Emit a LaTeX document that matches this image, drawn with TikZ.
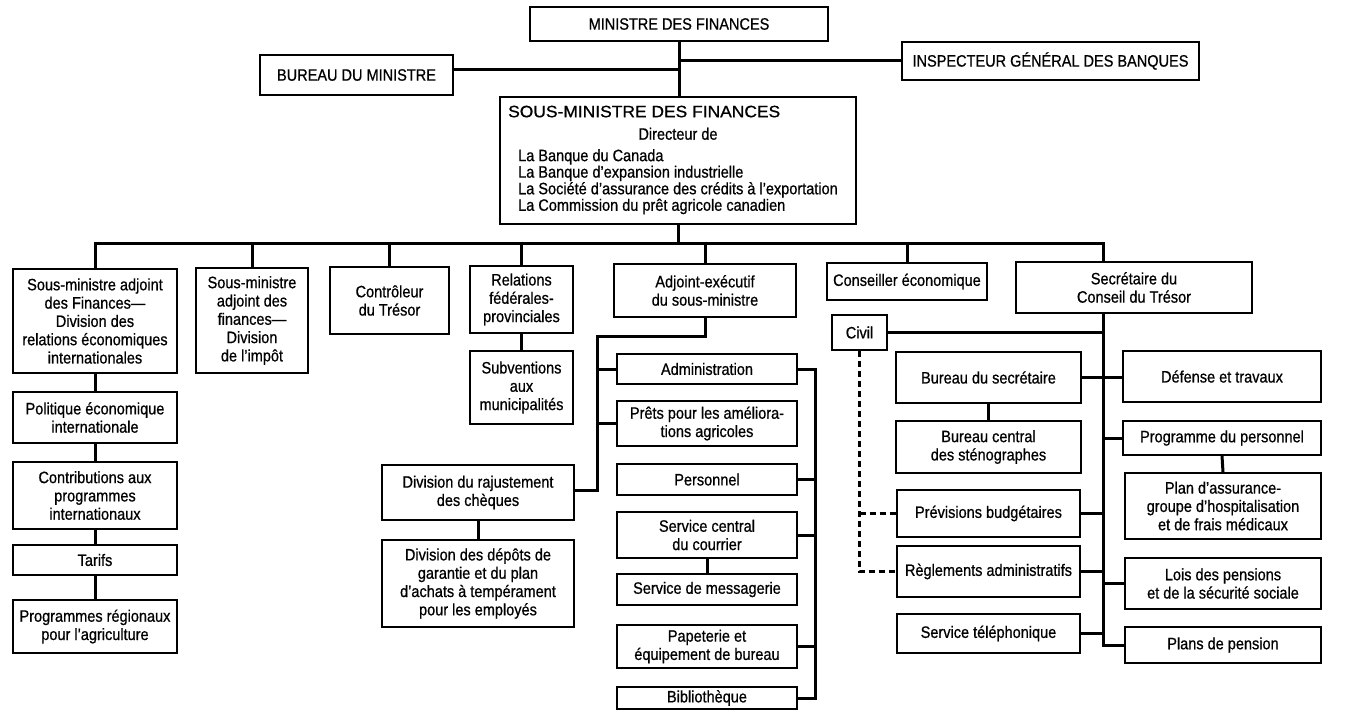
\documentclass[tikz,border=0pt]{standalone}
\usepackage{fontspec}
\usepackage{graphicx}
\setmainfont{Liberation Sans}[FakeStretch=0.88, FakeBold=0.7]
\usetikzlibrary{calc}

\tikzset{
  unit/.style={draw, line width=1.6pt, inner sep=0pt, align=center,
    font=\fontsize{16.5}{18.3}\selectfont},
  conn/.style={line width=3pt, line cap=rect},
  dotted link/.style={line width=2.4pt, dash pattern=on 6pt off 4pt},
}
% place a box by its pixel corners: left, top, right, bottom
\newcommand{\orgbox}[6]{%
  \node[unit, minimum width={#4-#2}, minimum height={#5-#3}]
    (#1) at ({(#2+#4)/2},{(#3+#5)/2}) {#6};}

\begin{document}
\begin{tikzpicture}[x=1pt, y=-1pt]
\useasboundingbox (0,0) rectangle (1349,711);

% --- top of the organisation
\orgbox{mf}{530}{7}{828}{41}{MINISTRE DES FINANCES}
\orgbox{bm}{260}{55}{453}{95}{BUREAU DU MINISTRE}
\orgbox{ig}{902}{42}{1199}{80}{INSPECTEUR GÉNÉRAL DES BANQUES}
\orgbox{sm}{500}{97}{856}{224}{%
  \fontsize{16.5}{15}\selectfont
  \begin{tabular}{@{}l@{}}
    \hspace*{-10pt}\scalebox{1.2}[1]{SOUS-MINISTRE DES FINANCES}\\[6pt]
    \multicolumn{1}{@{}c@{}}{Directeur de}\\[5pt]
    La Banque du Canada\\
    La Banque d'expansion industrielle\\
    La Société d'assurance des crédits à l'exportation\\
    La Commission du prêt agricole canadien
  \end{tabular}}

% --- first level under the deputy minister
\orgbox{c1}{13}{269}{177}{373}{Sous-ministre adjoint\\des Finances—\\Division des\\relations économiques\\internationales}
\orgbox{c2}{196}{268}{308}{373}{Sous-ministre\\adjoint des\\finances—\\Division\\de l'impôt}
\orgbox{c3}{330}{267}{449}{334}{Contrôleur\\du Trésor}
\orgbox{c4}{470}{266}{573}{333}{Relations\\fédérales-\\provinciales}
\orgbox{c5}{614}{264}{796}{317}{Adjoint-exécutif\\du sous-ministre}
\orgbox{ce}{827}{263}{987}{300}{Conseiller économique}
\orgbox{sct}{1016}{262}{1252}{313}{Secrétaire du\\Conseil du Trésor}

% --- international economic relations
\orgbox{pol}{13}{392}{177}{443}{Politique économique\\internationale}
\orgbox{contr}{13}{462}{177}{529}{Contributions aux\\programmes\\internationaux}
\orgbox{tar}{13}{545}{177}{575}{Tarifs}
\orgbox{preg}{13}{600}{177}{653}{Programmes régionaux\\pour l'agriculture}

% --- federal-provincial relations
\orgbox{sub}{470}{351}{573}{424}{Subventions\\aux\\municipalités}

% --- executive assistant
\orgbox{rc}{382}{465}{574}{520}{Division du rajustement\\des chèques}
\orgbox{dep}{382}{540}{574}{627}{Division des dépôts de\\garantie et du plan\\d'achats à tempérament\\pour les employés}
\orgbox{adm}{617}{354}{797}{384}{Administration}
\orgbox{prets}{617}{401}{797}{446}{Prêts pour les améliora-\\tions agricoles}
\orgbox{pers}{617}{464}{797}{495}{Personnel}
\orgbox{scc}{617}{512}{797}{558}{Service central\\du courrier}
\orgbox{msg}{617}{574}{797}{605}{Service de messagerie}
\orgbox{pap}{617}{625}{797}{668}{Papeterie et\\équipement de bureau}
\orgbox{bib}{617}{687}{797}{709}{Bibliothèque}

% --- Treasury Board secretariat
\orgbox{civ}{832}{315}{887}{350}{Civil}
\orgbox{bs}{896}{352}{1081}{403}{Bureau du secrétaire}
\orgbox{bcs}{896}{421}{1081}{473}{Bureau central\\des sténographes}
\orgbox{prev}{897}{490}{1080}{537}{Prévisions budgétaires}
\orgbox{regl}{897}{546}{1080}{597}{Règlements administratifs}
\orgbox{tel}{897}{614}{1080}{653}{Service téléphonique}
\orgbox{def}{1123}{351}{1321}{402}{Défense et travaux}
\orgbox{pp}{1123}{421}{1321}{455}{Programme du personnel}
\orgbox{pa}{1125}{473}{1321}{539}{Plan d'assurance-\\groupe d'hospitalisation\\et de frais médicaux}
\orgbox{lois}{1125}{558}{1321}{609}{Lois des pensions\\et de la sécurité sociale}
\orgbox{plp}{1125}{627}{1321}{663}{Plans de pension}

% --- junction points
\coordinate (busL) at (95,244);
\coordinate (busR) at (1103,244);
\coordinate (ja) at (597,336);
\coordinate (jb) at (597,490);
\coordinate (jk) at (815,369);

% --- connectors, top
\draw[conn] (mf.south) -- (mf.south |- sm.north);
\draw[conn] ([yshift=5pt]bm.east) -- ([yshift=5pt]bm.east -| mf.south);
\draw[conn] (ig.west) -- (ig.west -| mf.south);
\draw[conn] (sm.south) -- (sm.south |- busL);
\draw[conn] (c1.north) -- (busL) -- (busR) -- (busR |- sct.north);
\foreach \n in {c2,c3,c4,c5,ce}
  \draw[conn] (\n.north) -- (\n.north |- busL);

% --- connectors, left column
\draw[conn] (c1.south) -- (pol.north);
\draw[conn] (pol.south) -- (contr.north);
\draw[conn] (contr.south) -- (tar.north);
\draw[conn] (tar.south) -- (preg.north);
\draw[conn] (c4.south) -- (sub.north);

% --- connectors, executive assistant
\draw[conn] (c5.south) -- (c5.south |- ja) -- (ja) -- (jb) -- (rc.east |- jb);
\draw[conn] (adm.west -| ja) -- (adm.west);
\draw[conn] (prets.west -| ja) -- (prets.west);
\draw[conn] (rc.south) -- (dep.north);
\draw[conn] (adm.east) -- (jk) -- (bib.east -| jk) -- (bib.east);
\foreach \n in {pers,scc,pap}
  \draw[conn] (\n.east) -- (\n.east -| jk);
\draw[conn] (scc.south) -- (msg.north);

% --- connectors, Treasury Board
\draw[conn] (sct.south -| busR) -- (plp.west -| busR) -- (plp.west);
\draw[conn] (civ.east) -- (civ.east -| busR);
\draw[conn] (bs.east) -- (bs.east -| def.west);
\draw[conn] (bs.south) -- (bcs.north);
\draw[conn] (pp.west -| busR) -- (pp.west);
\draw[conn] (pp.south) -- (pa.north);
\draw[conn] (lois.west -| busR) -- (lois.west);
\foreach \n in {prev,regl,tel}
  \draw[conn] (\n.east) -- (\n.east -| busR);
\draw[dotted link] (civ.south) -- (civ.south |- regl.west) -- (regl.west);
\draw[dotted link] (civ.south |- prev.west) -- (prev.west);

\end{tikzpicture}
\end{document}
